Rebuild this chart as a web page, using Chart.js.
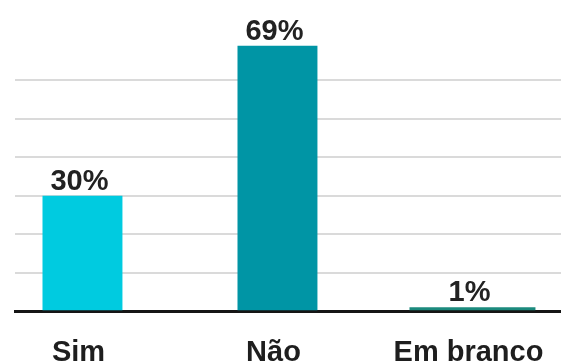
<!DOCTYPE html>
<html>
<head>
<meta charset="utf-8">
<script src="https://cdn.jsdelivr.net/npm/chart.js@4"></script>
<style>
  html, body { margin: 0; padding: 0; background: #fff; }
  #wrap { width: 561px; height: 364px; }
</style>
</head>
<body>
<div id="wrap"><canvas id="grafico"></canvas></div>
<script>
const categorias = ['Sim', 'Não', 'Em branco'];
const votos = [30, 69, 1];
const cores = ['#00cbe0', '#0095a5', '#1b8a7d'];
const yTicks = [10, 20, 30, 40, 50, 60];

// rotulo de % em cima de cada barra
const rotulos = {
  id: 'rotulos',
  afterDatasetsDraw(chart) {
    const ctx = chart.ctx;
    ctx.save();
    ctx.font = 'bold 29px "Liberation Sans", Arial, sans-serif';
    ctx.fillStyle = '#222';
    ctx.textAlign = 'center';
    ctx.textBaseline = 'alphabetic';
    chart.data.datasets.forEach((ds, di) => {
      chart.getDatasetMeta(di).data.forEach((bar, i) => {
        ctx.fillText(ds.data[i].y + '%', bar.x - 3, bar.y - 6);
      });
    });
    ctx.restore();
  }
};

// as duas primeiras barras sao estreitas, "Em branco" e mais larga
const pontos = votos.map((v, i) => ({ x: i, y: v }));

new Chart(document.getElementById('grafico'), {
  type: 'bar',
  data: {
    datasets: [
      { data: pontos.slice(0, 2), backgroundColor: cores.slice(0, 2), categoryPercentage: 1, barPercentage: 0.41 },
      { data: pontos.slice(2), backgroundColor: cores[2], categoryPercentage: 1, barPercentage: 0.646 }
    ]
  },
  options: {
    responsive: true,
    maintainAspectRatio: false,
    animation: false,
    grouped: false,
    layout: { padding: { left: 15, right: 0, top: 42, bottom: -22 } },
    plugins: { legend: { display: false }, tooltip: { enabled: false } },
    scales: {
      x: {
        type: 'linear',
        offset: false,
        min: -0.346,
        max: 2.454,
        afterBuildTicks: s => { s.ticks = categorias.map((_, i) => ({ value: i })); },
        // grade e linha do eixo vao ate a borda direita
        afterFit: s => { s.paddingRight = 0; },
        grid: { display: false },
        border: { display: true, color: '#151515', width: 3 },
        ticks: {
          callback: v => categorias[v] ?? '',
          color: '#1e1e1e',
          font: { family: '"Liberation Sans", Arial, sans-serif', size: 29, weight: 'bold' },
          padding: 16,
          labelOffset: -4,
          maxRotation: 0,
          autoSkip: false
        }
      },
      y: {
        min: 0,
        max: 70,
        afterBuildTicks: s => { s.ticks = [0, ...yTicks, 70].map(v => ({ value: v })); },
        grid: {
          color: c => (c.tick && yTicks.includes(c.tick.value)) ? '#dadada' : 'rgba(0,0,0,0)',
          lineWidth: 2,
          drawTicks: false
        },
        border: { display: false },
        ticks: { display: false }
      }
    }
  },
  plugins: [rotulos]
});
</script>
</body>
</html>
